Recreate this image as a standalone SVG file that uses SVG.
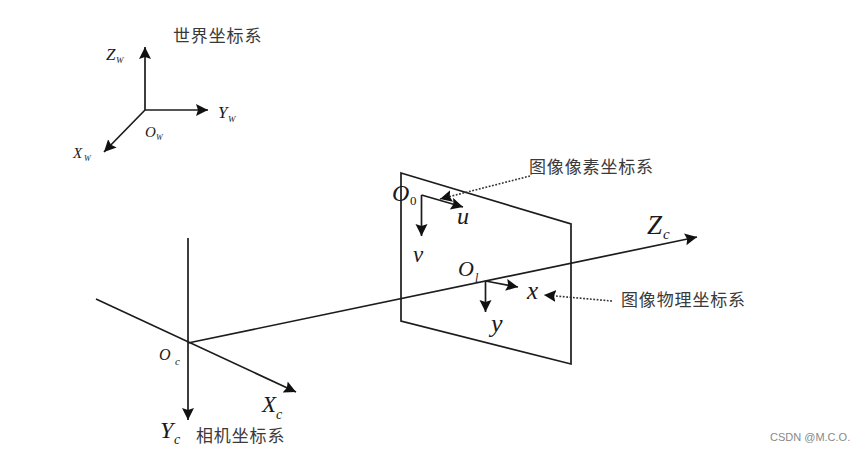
<svg xmlns="http://www.w3.org/2000/svg" width="865" height="451" viewBox="0 0 865 451">
<style>
.l{fill:none;stroke:#1c1c1c;stroke-width:1.7}
.a{marker-end:url(#ah)}
.d{fill:none;stroke:#333;stroke-width:1.6;stroke-dasharray:1.8 1.6;marker-end:url(#ah)}
.m{font-family:"Liberation Serif",serif;font-style:italic;fill:#1a1a1a}
.c{font-family:"Noto Sans CJK SC",serif;font-size:17px;letter-spacing:.85px;fill:#3a3a3a}
</style>
<defs>
<marker id="ah" markerUnits="userSpaceOnUse" markerWidth="16" markerHeight="14" refX="12" refY="6" orient="auto"><path d="M0 0L12 6L0 12L2 6Z" fill="#111"/></marker>
</defs>
<rect width="865" height="451" fill="#fff"/>
<g id="connectors">
<path class="l a" d="M145 110V47"/>
<path class="l a" d="M145 110H208"/>
<path class="l a" d="M145 110L104 152"/>
<path class="l" d="M401 173L571 224V364L401 321Z"/>
<path class="l a" d="M188 343L697 237"/>
<path class="l a" d="M188 238V420"/>
<path class="l a" d="M96 299L296 392"/>
<path class="l a" d="M421.5 195V236"/>
<path class="l a" d="M421.5 195L463 207"/>
<path class="l a" d="M485.5 281V312"/>
<path class="l a" d="M485.5 281L518 287"/>
<path class="d" d="M530 176L440 199"/>
<path class="d" d="M612 301L544 295"/>
</g>
<g id="world-label"><text class="c" x="173" y="42">世界坐标系</text></g>
<g id="zw"><text class="m" x="106" y="60" font-size="17">Z</text><text class="m" x="116" y="63" font-size="9">W</text></g>
<g id="yw"><text class="m" x="218" y="118" font-size="17">Y</text><text class="m" x="228" y="122" font-size="9">W</text></g>
<g id="ow"><text class="m" x="145" y="137" font-size="15">O</text><text class="m" x="156" y="140" font-size="8">W</text></g>
<g id="xw"><text class="m" x="73" y="158" font-size="15">X</text><text class="m" x="84" y="161" font-size="8">W</text></g>
<g id="pixel-label"><text class="c" x="529" y="173">图像像素坐标系</text></g>
<g id="physical-label"><text class="c" x="621" y="306">图像物理坐标系</text></g>
<g id="camera-label"><text class="c" x="196" y="442">相机坐标系</text></g>
<g id="o0"><text class="m" x="392" y="201" font-size="24">O</text><text class="m" x="410" y="205" font-size="13" style="font-style:normal">0</text></g>
<g id="u"><text class="m" x="457" y="224" font-size="24">u</text></g>
<g id="v"><text class="m" x="413" y="262" font-size="23">v</text></g>
<g id="ol"><text class="m" x="458" y="276" font-size="22">O</text><text class="m" x="475" y="282" font-size="12">l</text></g>
<g id="x"><text class="m" x="527" y="299" font-size="25">x</text></g>
<g id="y"><text class="m" x="491" y="332" font-size="26">y</text></g>
<g id="zc"><text class="m" x="647" y="234" font-size="27">Z</text><text class="m" x="663" y="239" font-size="15">c</text></g>
<g id="oc"><text class="m" x="159" y="360" font-size="16">O</text><text class="m" x="175" y="365" font-size="11">c</text></g>
<g id="xc"><text class="m" x="262" y="412" font-size="23">X</text><text class="m" x="276" y="419" font-size="14">c</text></g>
<g id="yc"><text class="m" x="160" y="438" font-size="24">Y</text><text class="m" x="174" y="444" font-size="14">c</text></g>
<g id="watermark"><text x="770" y="441" font-family="Liberation Sans,sans-serif" font-size="11" fill="#888">CSDN @M.C.O.</text></g>
</svg>
